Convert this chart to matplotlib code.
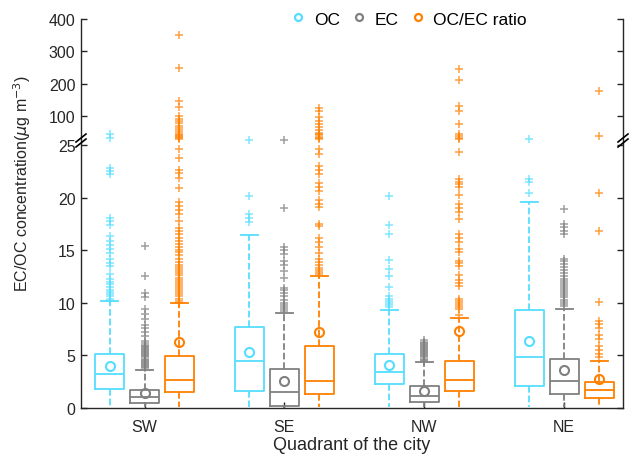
import numpy as np
import matplotlib
matplotlib.use("Agg")
import matplotlib.pyplot as plt
from matplotlib.lines import Line2D

plt.rcParams['font.family'] = ['Liberation Sans', 'DejaVu Sans']

quadrants = ["SW", "SE", "NW", "NE"]
series = ["OC", "EC", "OC/EC ratio"]
colors = ["#55DDFF", "#808080", "#FF8000"]

# per quadrant: [OC, EC, ratio]
q1 = [[1.81, 0.48, 1.49], [1.58, 0.22, 1.33], [2.28, 0.54, 1.58], [2.06, 1.33, 0.95]]
med = [[3.23, 1.02, 2.69], [4.47, 1.49, 2.60], [3.45, 1.17, 2.66], [4.82, 2.60, 1.74]]
q3 = [[5.13, 1.74, 4.91], [7.73, 3.71, 5.86], [5.13, 2.12, 4.50], [9.35, 4.66, 2.50]]
whislo = [[0.05, 0.05, 0.05], [0.05, 0.02, 0.05], [0.05, 0.05, 0.05], [0.05, 0.05, 0.05]]
whishi = [[10.14, 3.65, 9.98], [16.44, 9.00, 12.52], [9.35, 4.41, 8.55], [19.6, 9.41, 4.50]]
means = [[4.02, 1.43, 6.30], [5.35, 2.60, 7.26], [4.12, 1.58, 7.29], [6.40, 3.65, 2.76]]

fliers = [
    [  # SW
        [10.2, 10.4, 10.6, 10.8, 11.0, 11.2, 11.5, 11.8, 12.0, 12.3, 12.7, 13.5, 13.8, 14.2,
         14.7, 15.1, 15.5, 15.9, 16.3, 17.4, 17.8, 18.1, 22.2, 22.5, 22.8, 32, 44],
        [3.8, 3.9, 4.0, 4.1, 4.2, 4.3, 4.4, 4.5, 4.6, 4.7, 4.8, 4.9, 5.0, 5.1, 5.2, 5.3, 5.4,
         5.5, 5.6, 5.7, 5.8, 5.9, 6.0, 6.2, 6.4, 6.8, 7.2, 7.6, 7.9, 8.5, 8.9, 9.4, 10.5,
         10.9, 12.5, 15.4],
        [10.0, 10.2, 10.4, 10.6, 10.8, 11.0, 11.2, 11.4, 11.6, 11.8, 12.0, 12.2, 12.4, 12.6,
         12.8, 13.0, 13.2, 13.4, 13.6, 13.9, 14.2, 14.5, 14.8, 15.0, 15.3, 15.6, 15.9, 16.2,
         16.5, 16.8, 17.1, 17.8, 18.4, 18.8, 19.2, 19.6, 20.9, 21.9, 22.3, 22.6, 23.8, 24.6,
         28, 31, 34, 37, 40, 44, 50, 55, 62, 70, 78, 85, 92, 101, 127, 147, 247, 351],
    ],
    [  # SE
        [17.7, 18.1, 18.4, 20.1, 26],
        [9.2, 9.4, 9.6, 9.8, 10.0, 10.3, 10.6, 10.9, 11.2, 11.4, 12.4, 13.0, 13.6, 14.0,
         14.6, 15.0, 15.3, 19.0, 26],
        [12.7, 12.9, 13.1, 13.3, 13.6, 13.9, 14.2, 14.7, 15.3, 15.8, 16.2, 17.3, 17.5, 19.1,
         19.4, 19.8, 20.6, 21.0, 21.4, 22.2, 22.6, 23.0, 24.1, 24.6,
         28, 32, 36, 40, 44, 48, 55, 66, 75, 85, 96, 116, 125],
    ],
    [  # NW
        [9.6, 9.8, 10.0, 10.2, 10.4, 10.6, 11.5, 12.5, 13.2, 14.1, 16.5, 17.4, 20.1],
        [4.5, 4.6, 4.7, 4.8, 4.9, 5.0, 5.1, 5.2, 5.3, 5.4, 5.5, 5.6, 5.7, 5.8, 5.9, 6.0,
         6.1, 6.2, 6.3, 6.5],
        [8.8, 9.4, 9.6, 9.8, 10.0, 10.2, 10.4, 11.6, 11.9, 12.2, 12.6, 13.5, 13.8, 14.0,
         14.8, 15.1, 15.8, 16.2, 16.5, 18.0, 18.6, 19.0, 19.4, 20.2, 21.0, 21.3, 21.5, 21.8,
         24.3, 28, 33, 38, 44, 75, 114, 130, 212, 245],
    ],
    [  # NE
        [20.4, 21.5, 21.8, 29],
        [9.7, 9.9, 10.1, 10.3, 10.5, 10.7, 10.9, 11.1, 11.3, 11.5, 11.7, 11.9, 12.1, 12.3,
         12.5, 12.8, 13.1, 13.4, 13.7, 14.0, 14.2, 16.5, 16.8, 17.2, 17.5, 18.9],
        [4.8, 5.1, 5.5, 5.9, 6.6, 6.9, 7.6, 8.0, 8.3, 10.1, 16.8, 20.4, 38, 176],
    ],
]

yticks = [0, 5, 10, 15, 20, 25, 100, 200, 300, 400]

# broken-axis scale: linear 0-25, compressed above 25
GAP = 0.45
K = 0.0307


def fwd(v):
    v = np.asarray(v, dtype=float)
    return np.where(v <= 25, v, 25 + GAP + (v - 25) * K)


def inv(u):
    u = np.asarray(u, dtype=float)
    return np.where(u <= 25, u, np.where(u < 25 + GAP, 25.0, 25 + (u - 25 - GAP) / K))


fig = plt.figure(figsize=(6.32, 4.56), dpi=100)
ax = fig.add_axes([81 / 632, 1 - 409 / 456, (623 - 81) / 632, (409 - 20) / 456])
ax.set_yscale('function', functions=(fwd, inv))

offsets = [-0.25, 0.0, 0.25]
for s in range(3):
    stats = []
    pos = []
    for g in range(4):
        stats.append(dict(med=med[g][s], q1=q1[g][s], q3=q3[g][s],
                          whislo=whislo[g][s], whishi=whishi[g][s],
                          mean=means[g][s], fliers=np.array(fliers[g][s])))
        pos.append(g + 1 + offsets[s])
    c = colors[s]
    art = ax.bxp(stats, positions=pos, widths=0.207, capwidths=0.12, showmeans=True,
                 boxprops=dict(color=c, linewidth=1.3),
                 whiskerprops=dict(color=c, linewidth=1.3, linestyle='--'),
                 capprops=dict(color=c, linewidth=1.3),
                 medianprops=dict(color=c, linewidth=1.3),
                 meanprops=dict(marker='o', markerfacecolor='none', markeredgecolor=c,
                                markersize=6.5, markeredgewidth=1.5),
                 flierprops=dict(marker='+', markeredgecolor=c, markersize=6,
                                 markeredgewidth=1.1, alpha=0.75, linestyle='none'))
    # hide lower caps (they sit on the x axis in the reference)
    for i, cap in enumerate(art['caps']):
        if i % 2 == 0:
            cap.set_visible(False)

ax.set_xlim(0.546, 4.42)
ax.set_ylim(0, 400)
ax.set_yticks(yticks)
ax.set_yticklabels([str(t) for t in yticks])
ax.set_xticks([1, 2, 3, 4])
ax.set_xticklabels(quadrants)
ax.tick_params(axis='both', direction='in', length=4, width=1, colors='#262626',
               labelsize=11.5, labelcolor='#262626')
ax.tick_params(axis='y', right=True, pad=4)
ax.tick_params(axis='x', pad=8)
for sp in ['left', 'right', 'bottom']:
    ax.spines[sp].set_color('#262626')
    ax.spines[sp].set_linewidth(1.0)
ax.spines['top'].set_visible(False)

ax.set_xlabel("Quadrant of the city", fontsize=13, color='#262626', labelpad=1.5)
ax.set_ylabel(r"EC/OC concentration($\mu$g m$^{-3}$)", fontsize=11.5, color='#262626')
ax.yaxis.set_label_coords(-0.088, 0.58)

# break marks on both spines
for xf in (81, 623):
    for dy in (-2.5, 2.5):
        yc = 141.5 + dy
        fig.add_artist(Line2D([(xf - 5) / 632, (xf + 5) / 632],
                              [1 - (yc + 4) / 456, 1 - (yc - 4) / 456],
                              color='black', linewidth=1.2))

handles = [Line2D([], [], marker='o', linestyle='none', markerfacecolor='none',
                  markeredgecolor=c, markersize=5, markeredgewidth=1.6) for c in colors]
ax.legend(handles, series, loc='center', bbox_to_anchor=(0.607, 1.0), ncol=3,
          frameon=False, fontsize=12.5, handlelength=0.6, handletextpad=0.6,
          columnspacing=0.8, borderaxespad=0)

fig.savefig("out.png", dpi=100)
